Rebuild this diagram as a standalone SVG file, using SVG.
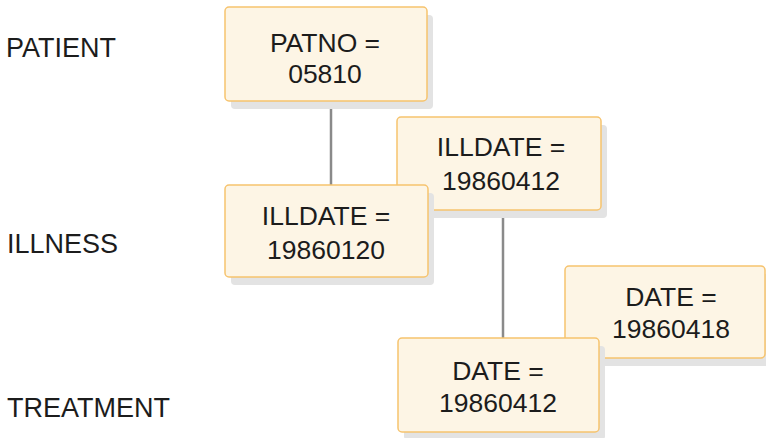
<svg xmlns="http://www.w3.org/2000/svg" width="766" height="438" viewBox="0 0 766 438">
<style>
.sh{fill:#e3e3e3;}
.bx{fill:#fdf5e5;stroke:#f6c36e;stroke-width:1.5;}
.t{font-family:"Liberation Sans",Arial,sans-serif;font-size:26.5px;fill:#1c1c1c;}
.lb{font-size:27px;}
.c{text-anchor:middle;}
.ln{stroke:#8a8a8a;stroke-width:2.5;fill:none;}
</style>
<rect width="766" height="438" fill="#ffffff"/>
<g id="level-labels">
<text class="t lb" x="6" y="57">PATIENT</text>
<text class="t lb" x="7" y="253">ILLNESS</text>
<text class="t lb" x="7" y="417">TREATMENT</text>
</g>
<g id="connectors">
<line class="ln" x1="331" y1="101" x2="331" y2="185"/>
<line class="ln" x1="503" y1="210" x2="503" y2="338"/>
</g>
<g id="node-patno">
<rect class="sh" x="231" y="15" width="202" height="94" rx="4"/>
<rect class="bx" x="225" y="7" width="202" height="94" rx="4"/>
<text class="t c" x="325" y="52">PATNO =</text>
<text class="t c" x="325" y="83">05810</text>
</g>
<g id="node-illdate-19860412">
<rect class="sh" x="403" y="125" width="204" height="93" rx="4"/>
<rect class="bx" x="397" y="117" width="204" height="93" rx="4"/>
<text class="t c" x="501" y="156">ILLDATE =</text>
<text class="t c" x="501" y="190">19860412</text>
</g>
<g id="node-illdate-19860120">
<rect class="sh" x="231" y="193" width="203" height="92" rx="4"/>
<rect class="bx" x="225" y="185" width="203" height="92" rx="4"/>
<text class="t c" x="326" y="225">ILLDATE =</text>
<text class="t c" x="326" y="259">19860120</text>
</g>
<g id="node-date-19860418">
<rect class="sh" x="571" y="274" width="200" height="92" rx="4"/>
<rect class="bx" x="565" y="266" width="200" height="92" rx="4"/>
<text class="t c" x="671" y="306">DATE =</text>
<text class="t c" x="671" y="338">19860418</text>
</g>
<g id="node-date-19860412">
<rect class="sh" x="404" y="346" width="201" height="94" rx="4"/>
<rect class="bx" x="398" y="338" width="201" height="94" rx="4"/>
<text class="t c" x="498" y="380">DATE =</text>
<text class="t c" x="498" y="412">19860412</text>
</g>
</svg>
